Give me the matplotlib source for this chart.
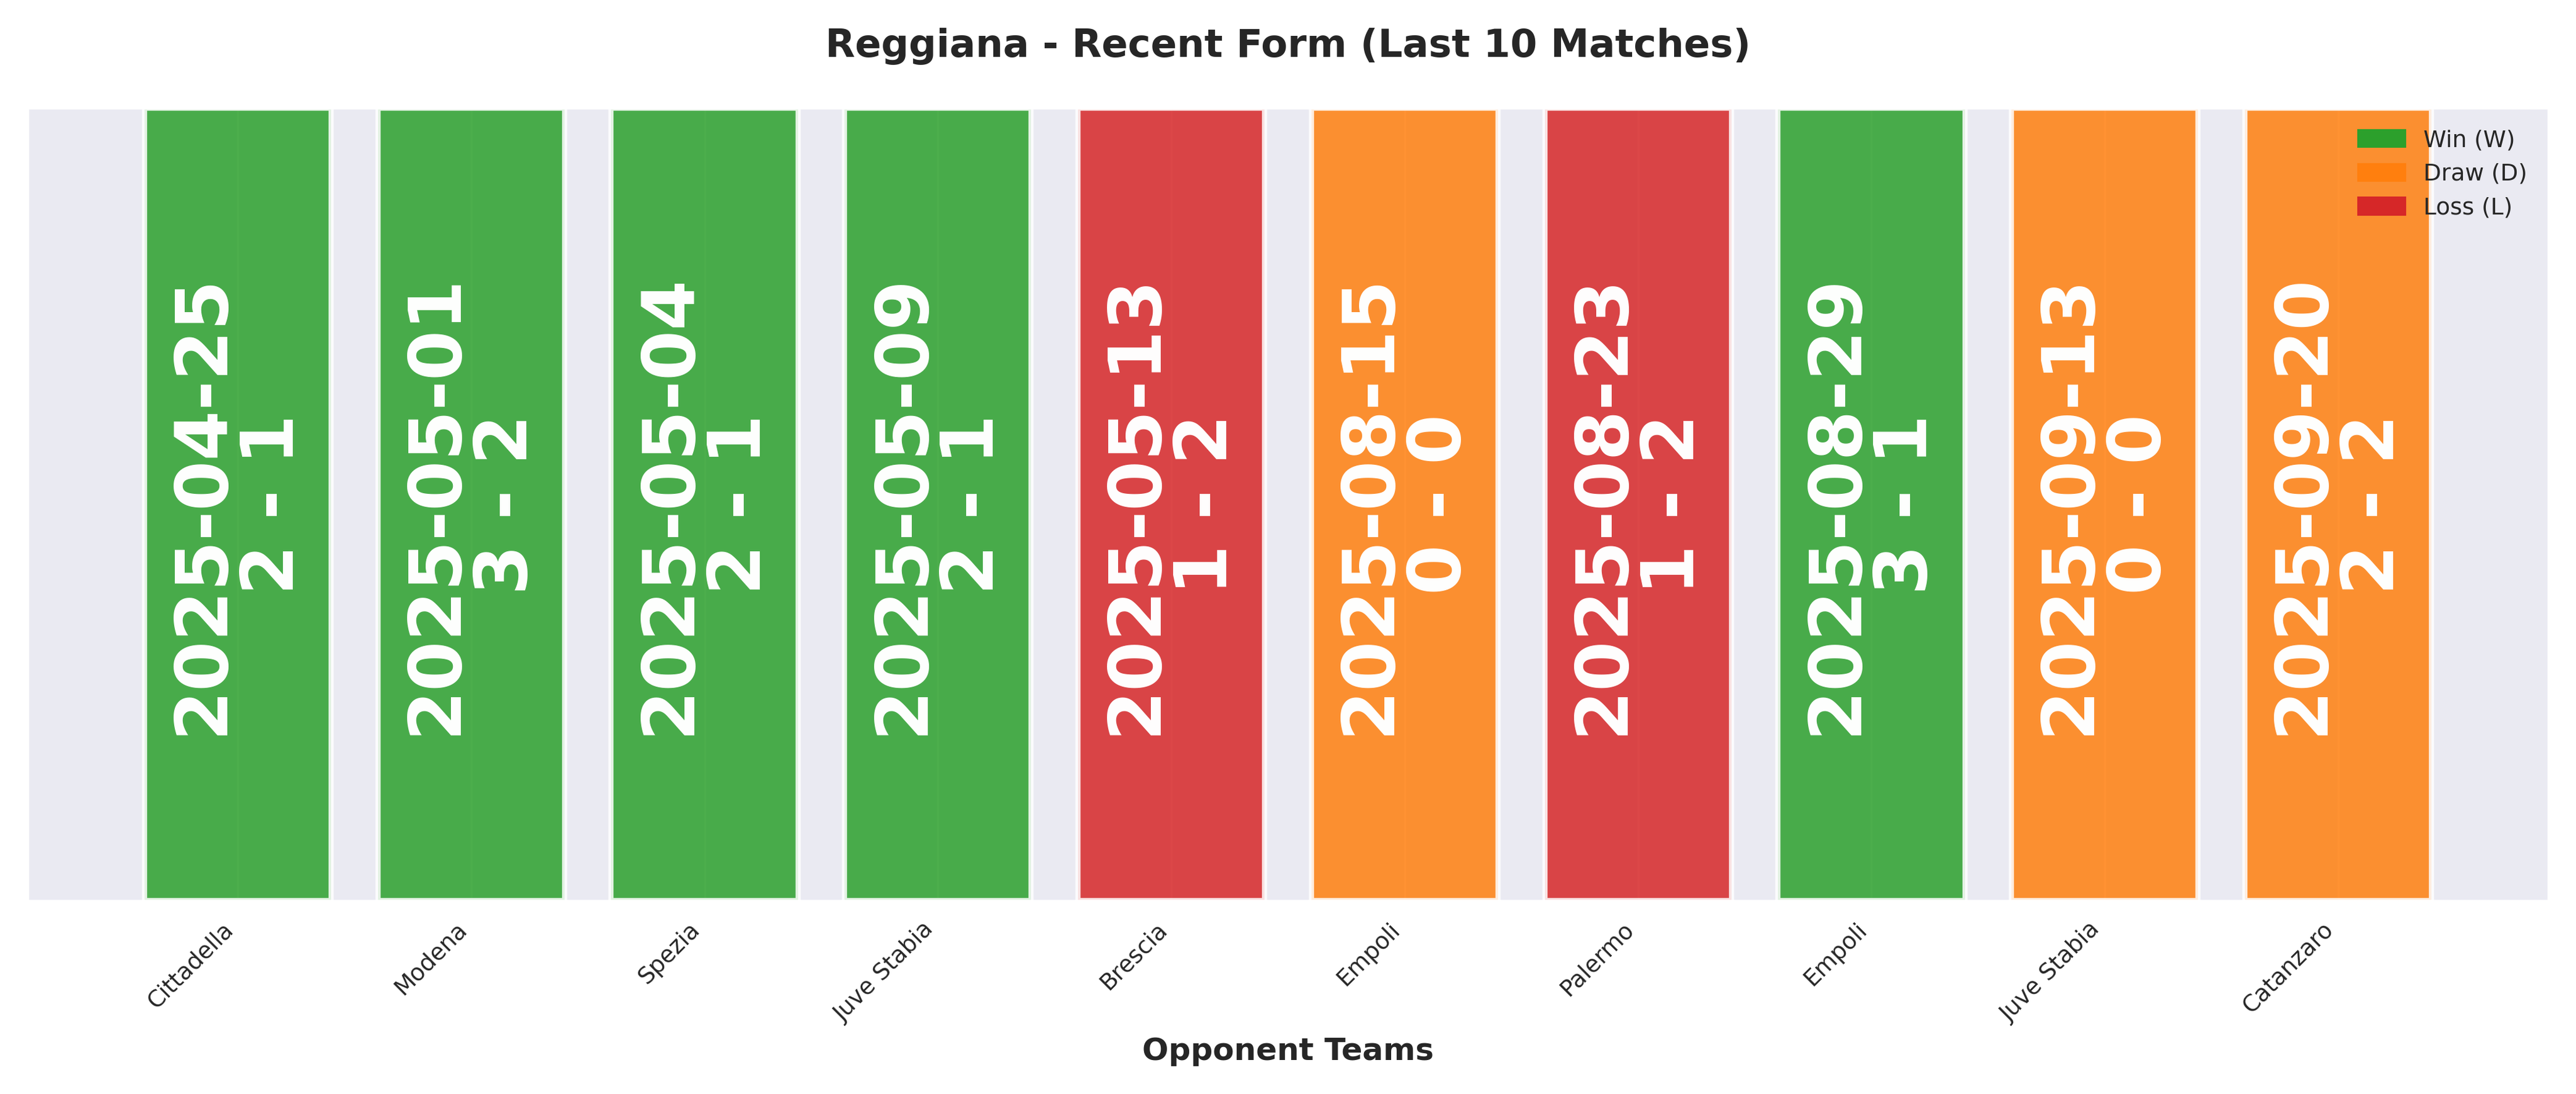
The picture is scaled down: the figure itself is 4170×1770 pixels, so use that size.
import matplotlib.pyplot as plt
import seaborn as sns
from matplotlib.patches import Patch

sns.set_style("darkgrid")
plt.rcParams['font.family'] = ['DejaVu Sans']

opponents = ["Cittadella", "Modena", "Spezia", "Juve Stabia", "Brescia",
             "Empoli", "Palermo", "Empoli", "Juve Stabia", "Catanzaro"]
dates = ["2025-04-25", "2025-05-01", "2025-05-04", "2025-05-09", "2025-05-13",
         "2025-08-15", "2025-08-23", "2025-08-29", "2025-09-13", "2025-09-20"]
scores = ["2 - 1", "3 - 2", "2 - 1", "2 - 1", "1 - 2",
          "0 - 0", "1 - 2", "3 - 1", "0 - 0", "2 - 2"]
results = ["W", "W", "W", "W", "L", "D", "L", "W", "D", "D"]

colors = {"W": "#2ca02c", "D": "#ff7f0e", "L": "#d62728"}

fig, ax = plt.subplots(figsize=(13.9, 5.9), dpi=300)
x = range(len(opponents))
ax.bar(x, [1] * len(opponents), width=0.8,
       color=[colors[r] for r in results], alpha=0.85,
       edgecolor="white", linewidth=2)

for i in x:
    ax.text(i, 0.5, f"{dates[i]}\n{scores[i]}", ha="center", va="center",
            rotation=90, color="white", fontsize=28, fontweight="bold",
            linespacing=1.0)

ax.set_xlim(-0.9, 9.9)
ax.set_ylim(0, 1)
ax.set_yticks([])
ax.set_xticks(list(x))
ax.set_xticklabels(opponents, rotation=45, ha="right", fontsize=9)
ax.set_xlabel("Opponent Teams", fontsize=12, fontweight="bold")
ax.set_title("Reggiana - Recent Form (Last 10 Matches)", fontsize=15,
             fontweight="bold", pad=20)

handles = [Patch(color=colors["W"], label="Win (W)"),
           Patch(color=colors["D"], label="Draw (D)"),
           Patch(color=colors["L"], label="Loss (L)")]
ax.legend(handles=handles, loc="upper right", fontsize=9, frameon=False)

plt.tight_layout()
plt.savefig("out.png", dpi=300)
plt.close()
